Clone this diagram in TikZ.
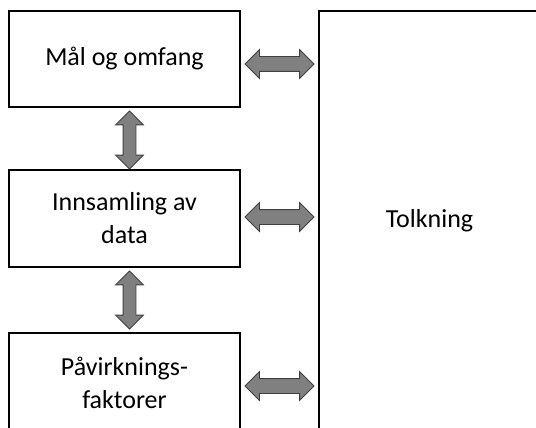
\documentclass[tikz,border=0pt]{standalone}
\usepackage{fontspec}
\setmainfont{Carlito}
\usetikzlibrary{shapes.arrows}
\definecolor{ArrFill}{RGB}{128,128,128}
\definecolor{ArrEdge}{RGB}{64,64,64}
\tikzset{
  fb/box/.style={
    draw=black,
    line width=1.2pt,
    fill=white,
    align=center,
    text=black,
    inner sep=0pt,
    minimum width=173.25pt,
    font=\fontsize{19.5}{24.75}\selectfont
  },
  fb/dblarrow/.style={
    double arrow,
    double arrow head extend=5.25pt,
    draw=ArrEdge,
    line width=0.6pt,
    fill=ArrFill,
    inner xsep=0pt,
    inner ysep=5.25pt,
    minimum height=51.75pt,
    minimum width=21pt
  },
  fb/vdblarrow/.style={fb/dblarrow, rotate=90, inner ysep=4.5pt,
    double arrow head extend=5.6pt, minimum height=43.5pt, minimum width=20.25pt}
}

\begin{document}
\begin{tikzpicture}[x=0.75pt,y=-0.75pt]
  \useasboundingbox (0,0) rectangle (536,428);
  \clip (0,0) rectangle (536,428);
  \node[fb/box,minimum height=72pt] (maal) at (124.5,59) {Mål og omfang};
  \node[fb/box,minimum height=72.75pt] (data) at (124.5,218.5) {Innsamling av\\data};
  \node[fb/box,minimum height=75pt] (faktor) at (124.5,383) {Påvirknings-\\faktorer};
  \node[fb/box,minimum width=165.75pt,minimum height=315pt] (tolk) at (429.5,221) {Tolkning};
  % piler mellom boksene
  \node[fb/vdblarrow] (pil1) at (129.5,140) {};
  \node[fb/vdblarrow] (pil2) at (129.5,300) {};
  \node[fb/dblarrow] (pil3) at (279.5,64) {};
  \node[fb/dblarrow] (pil4) at (279.5,217) {};
  \node[fb/dblarrow] (pil5) at (279.5,386) {};
\end{tikzpicture}
\end{document}
